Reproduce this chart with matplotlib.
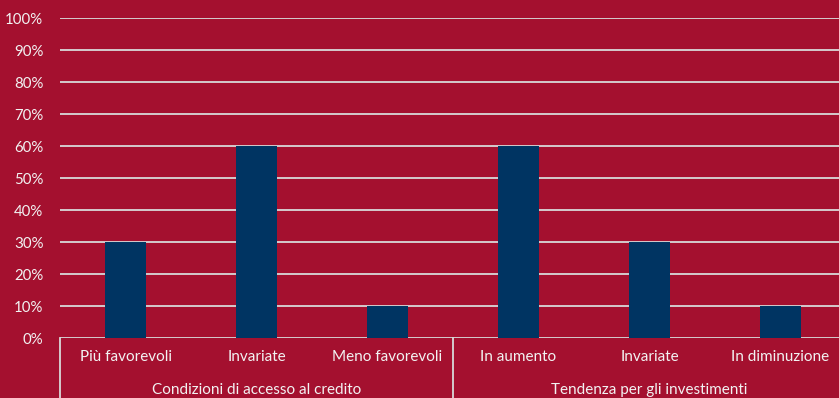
import matplotlib.pyplot as plt
from matplotlib.lines import Line2D
import matplotlib.transforms as mtransforms

categories = ["Più favorevoli", "Invariate", "Meno favorevoli",
              "In aumento", "Invariate", "In diminuzione"]
values = [30, 60, 10, 60, 30, 10]
groups = ["Condizioni di accesso al credito", "Tendenza per gli investimenti"]
group_sizes = [3, 3]
yticks = list(range(0, 101, 10))

bg = "#A4102F"
bar_col = "#003462"
txt = "#F2F2F2"
plt.rcParams['font.family'] = ['Lato', 'DejaVu Sans']

fig = plt.figure(figsize=(8.39, 3.98), dpi=100, facecolor=bg)
W, H = 839, 398
ax = fig.add_axes([60 / W, 60 / H, (846 - 60) / W, 320 / H])
ax.set_facecolor(bg)

x = list(range(len(values)))
ax.bar(x, values, width=0.32, color=bar_col, zorder=3)

ax.set_xlim(-0.5, len(values) - 0.5)
ax.set_ylim(0, 100)
ax.set_yticks(yticks)
ax.set_yticklabels([f"{v}%" for v in yticks], color=txt, fontsize=10.8)
ax.tick_params(axis='y', length=0, pad=12)
ax.set_xticks([])
ax.grid(axis='y', color="#D9D9D9", linewidth=1.3, zorder=1)
for s in ax.spines.values():
    s.set_visible(False)

trans = mtransforms.blended_transform_factory(ax.transData, fig.transFigure)
for i, c in enumerate(categories):
    ax.text(i, 1 - 357 / H, c, transform=trans, ha='center', va='center',
            color=txt, fontsize=11)

start = 0
bounds = [-0.5]
for g, n in zip(groups, group_sizes):
    mid = start + (n - 1) / 2
    ax.text(mid, 1 - 390 / H, g, transform=trans, ha='center', va='center',
            color=txt, fontsize=11)
    start += n
    bounds.append(start - 0.5)

for b in bounds[:-1]:
    ax.add_line(Line2D([b, b], [0, 60 / H], transform=trans, color="#D9D9D9",
                       linewidth=1.3, clip_on=False))

fig.savefig("out.png", dpi=100, facecolor=bg)
